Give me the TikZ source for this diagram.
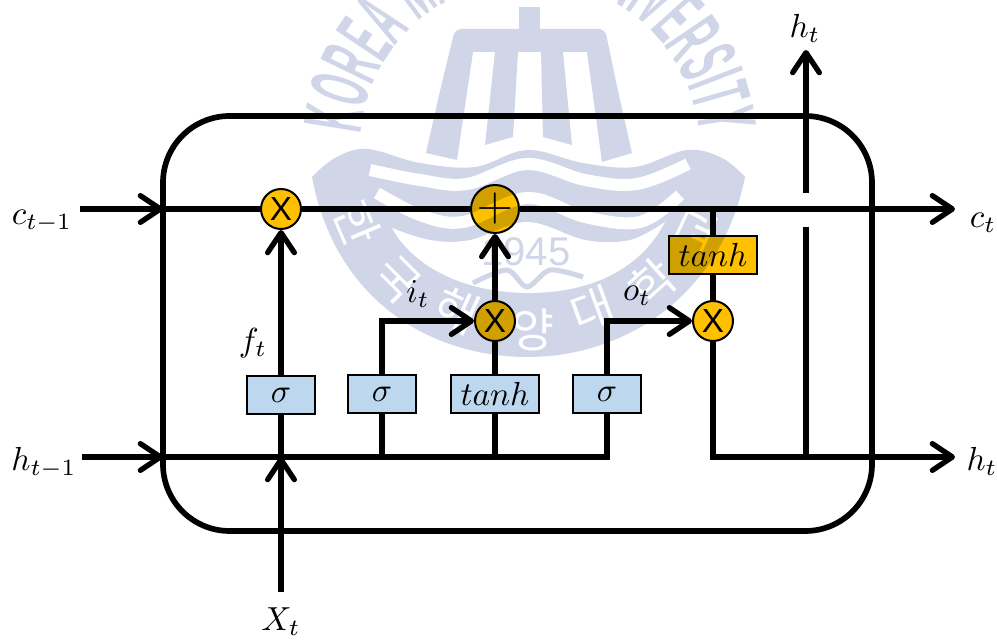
\documentclass[tikz,border=0pt]{standalone}
\usepackage{fontspec}
\usepackage{xcolor}
\usepackage{tikz}
\usetikzlibrary{arrows.meta,decorations.text}
\setmainfont{Liberation Sans}
\newfontfamily\cjk{Noto Sans CJK KR}
\newfontfamily\logofont[FakeStretch=0.4]{Liberation Sans Bold}
\definecolor{logoblue}{RGB}{208,213,232}
\definecolor{gateyellow}{RGB}{255,192,0}
\definecolor{boxblue}{RGB}{189,215,238}

\begin{document}
\begin{tikzpicture}[
  x=.3pt,y=-.3pt,
  gate/.style={circle,draw,line width=.6pt,fill=gateyellow,minimum size=12pt,inner sep=0pt,font=\fontsize{10}{10}\selectfont},
  sigbox/.style={draw,line width=.6pt,fill=boxblue,minimum width=20.4pt,minimum height=11.2pt,inner sep=0pt},
  tanhbox/.style={sigbox,minimum width=26.4pt},
  wire/.style={line width=1.6pt},
  arrow/.style={wire,-{Straight Barb[length=6pt,width=8pt,round]}},
  lbl/.style={inner sep=0pt}
]
\useasboundingbox (0,0) rectangle (997,642);
% watermark
\begin{scope}
\clip (0,0) rectangle (997,642);
\fill[logoblue] (519,7) rectangle (540,35);
\fill[logoblue] (530,29) [rounded corners=2pt] -- (455,29) -- (440,91) [sharp corners] -- (426,153)--(457,160)--(473,52)--(495,52)--(485,145)--(513,137)--(518,52)
  --(541,52)--(543,137)--(572,145)--(563,52)--(587,52)--(602,162)--(632,153)--(618,91) [rounded corners=2pt] -- (605,29) -- (530,29) -- cycle;
\fill[logoblue] plot[smooth,tension=.6] coordinates {(312,177)(335,158)(367,149)(420,163)(475,167)(527,150)(583,163)(635,167)(687,150)(722,158)(745,177)}
  .. controls (720,300) and (620,357) .. (528,357) .. controls (430,357) and (335,300) .. (312,177) -- cycle;
\draw[white,line width=3.6pt] plot[smooth,tension=.6] coordinates {(370,170)(420,180)(467,184)(527,164)(585,180)(637,184)(688,164)};
\draw[white,line width=3.6pt] plot[smooth,tension=.6] coordinates {(377,193)(420,215)(463,222)(527,198)(585,217)(640,222)(680,195)};
\fill[white] plot[smooth,tension=.6] coordinates {(392,228)(430,240)(470,240)(527,222)(585,240)(630,240)(665,222)}
  .. controls (640,270) and (590,293) .. (528,293) .. controls (470,293) and (415,270) .. (392,228) -- cycle;
\node[text=logoblue,font=\fontsize{12}{12}\selectfont] (year) at (526,252) {1945};
\draw[logoblue,line width=1.5pt] plot[smooth] coordinates {(473,283)(507,270)(527,287)(550,270)(583,277)};
\foreach \px/\py/\ang/\syl in {357/223/-67/한,397/280/-45/국,457/310/-24/해,533/330/0/양,593/310/20/대,653/283/42/학,697/230/65/교}
  \node[text=white,rotate=\ang,font=\cjk\fontsize{14}{14}\selectfont] at (\px,\py) {\syl};
\begin{scope}[shift={(530,150)},x=.3pt,y=.3pt]
\path[decorate,decoration={text along path,text align=center,text color=logoblue,
    text={|\logofont\fontsize{25}{25}\selectfont|KOREA MARITIME UNIVERSITY}}]
  (190:170) arc[start angle=190,end angle=-10,radius=170];
\end{scope}
\end{scope}
% gates and boxes
\begin{scope}[blend mode=multiply]
\node[gate] (forget) at (281,209) {X};
\node[gate,font=\Large] (add) at (495,209) {$+$};
\node[gate] (input) at (495,321) {X};
\node[gate] (output) at (713,321) {X};
\node[sigbox] (sigf) at (281,395) {$\sigma$};
\node[sigbox] (sigi) at (382,394) {$\sigma$};
\node[tanhbox] (tanhi) at (495,394) {$tanh$};
\node[sigbox] (sigo) at (607,394) {$\sigma$};
\node[tanhbox,fill=gateyellow] (tanho) at (713,255) {$tanh$};
\end{scope}
% labels
\node[lbl] (cin) at (42,221) {$c_{t-1}$};
\node[lbl] (hin) at (44,463) {$h_{t-1}$};
\node[lbl] (cout) at (983,223) {$c_t$};
\node[lbl] (hout) at (982,461) {$h_t$};
\node[lbl] (htop) at (805,28) {$h_t$};
\node[lbl] (xin) at (281,622) {$X_t$};
\node[lbl] at (253,343) {$f_t$};
\node[lbl] at (418,294) {$i_t$};
\node[lbl] at (637,296) {$o_t$};
% cell
\draw[line width=1.7pt,rounded corners=20pt] (163,116) rectangle (872,531);
\coordinate (cstart) at (80,209);
\coordinate (cedge) at (163,209);
\coordinate (cend) at (955,209);
\coordinate (hstart) at (82,457);
\coordinate (hedge) at (163,457);
\coordinate (hend) at (955,457);
\coordinate (xstart) at (281,592);
\coordinate (xhit) at (281,457);
\coordinate (htip) at (806,50);
\coordinate (gapup) at (806,193);
\coordinate (gapdown) at (806,227);
\coordinate (hjoin) at (806,457);
\coordinate (hturn) at (607,457);
\coordinate (ctap) at (713,209);
\draw[arrow] (cstart)--(cedge);
\draw[wire] (cedge)--(forget);
\draw[wire] (forget)--(add);
\draw[arrow] (add)--(cend);
\draw[arrow] (hstart)--(hedge);
\draw[wire] (hedge)--(hturn)--(sigo);
\draw[arrow] (xstart)--(xhit);
\draw[wire] (xhit)--(sigf);
\draw[arrow] (sigf)--(forget);
\draw[wire] (sigi)--(sigi|-hturn);
\draw[arrow] (sigi) |- (input);
\draw[wire] (tanhi)--(tanhi|-hturn);
\draw[wire] (tanhi)--(input);
\draw[arrow] (input)--(add);
\draw[arrow] (sigo) |- (output);
\draw[wire] (ctap)--(tanho);
\draw[wire] (tanho)--(output);
\draw[arrow] (output) |- (hend);
\draw[wire] (hjoin)--(gapdown);
\draw[arrow] (gapup)--(htip);
\end{tikzpicture}
\end{document}
